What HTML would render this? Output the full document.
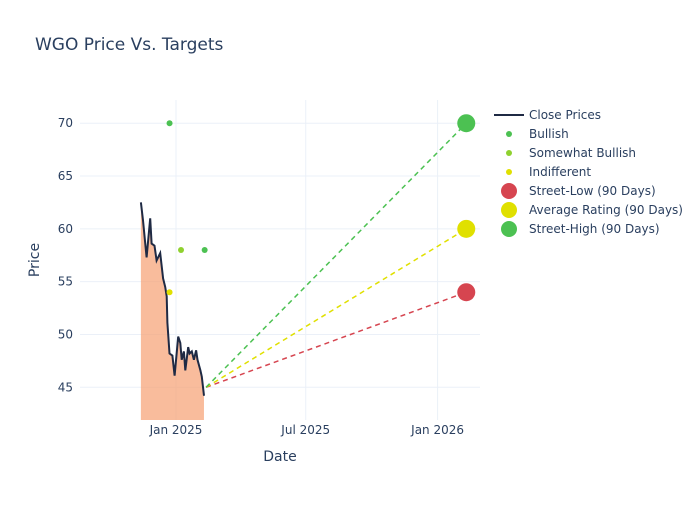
<!DOCTYPE html>
<html><head><meta charset="utf-8"><style>
body{margin:0;background:#fff;font-family:"Liberation Sans","DejaVu Sans",sans-serif;}
svg text{font-family:"DejaVu Sans","Liberation Sans",sans-serif;fill:#2a3f5f;}
</style></head><body>
<svg id="c" width="700" height="500" xmlns="http://www.w3.org/2000/svg">
<rect width="700" height="500" fill="#fff"/>
<text x="35" y="50" font-size="17">WGO Price Vs. Targets</text>
</svg>
<script>
const priceDates=["2024-11-13","2024-11-16","2024-11-21","2024-11-26","2024-11-28","2024-12-02","2024-12-05","2024-12-10","2024-12-14","2024-12-17","2024-12-19","2024-12-20","2024-12-23","2024-12-27","2024-12-30","2025-01-04","2025-01-07","2025-01-09","2025-01-12","2025-01-14","2025-01-18","2025-01-20","2025-01-23","2025-01-26","2025-01-29","2025-01-31","2025-02-04","2025-02-06","2025-02-09"];
const priceValues=[62.5,60.8,57.3,61.0,58.6,58.4,57.0,57.7,55.3,54.5,53.6,51.1,48.2,48.0,46.1,49.8,49.2,47.6,48.4,46.6,48.8,48.2,48.4,47.6,48.5,47.6,46.6,46.0,44.2];
const bullishDates=["2024-12-23","2025-02-10"], bullishValues=[70,58];
const swBullishDates=["2025-01-08"], swBullishValues=[58];
const indiffDates=["2024-12-23"], indiffValues=[54];
const targetDate="2026-02-10", targetStart="2025-02-12", startValue=45;
const targetNames=["Street-Low (90 Days)","Average Rating (90 Days)","Street-High (90 Days)"];
const targetValues=[54,60,70];
const targetColors=["#d64550","#e0e000","#4cc152"];
const yTicks=[45,50,55,60,65,70];
const xTickDates=["2025-01-01","2025-07-01","2026-01-01"], xTickLabels=["Jan 2025","Jul 2025","Jan 2026"];

const svg=document.getElementById('c'), NS="http://www.w3.org/2000/svg";
const L=80,R=480,T=100,B=420, y0=41.9,y1=72.2;
const base=Date.UTC(2025,0,1);
function days(d){const p=d.split('-');return (Date.UTC(+p[0],p[1]-1,+p[2])-base)/864e5;}
function X(d){return 176+days(d)*0.7167;}
function Y(v){return B-(v-y0)/(y1-y0)*(B-T);}
function mk(tag,a,parent){const e=document.createElementNS(NS,tag);for(const k in a)e.setAttribute(k,a[k]);(parent||svg).appendChild(e);return e;}

const grid=mk('g',{});


yTicks.forEach(v=>{
  mk('line',{x1:L,x2:R,y1:Y(v),y2:Y(v),stroke:'#ebf0f8'},grid);
  const t=mk('text',{x:L-7,y:Y(v)+4,'font-size':12,'text-anchor':'end'});
  t.textContent=v;
  
  
});
xTickDates.forEach((d,i)=>{
  mk('line',{x1:X(d),x2:X(d),y1:T,y2:B,stroke:'#ebf0f8'},grid);
  const t=mk('text',{x:X(d),y:B+14,'font-size':12,'text-anchor':'middle'});
  t.textContent=xTickLabels[i];
  
  
});
let t=mk('text',{x:280,y:461,'font-size':14,'text-anchor':'middle'});t.textContent='Date';


t=mk('text',{x:39,y:260,'font-size':14,'text-anchor':'middle',transform:'rotate(-90 39 260)'});t.textContent='Price';



// area + line
let pts=priceDates.map((d,i)=>X(d).toFixed(1)+','+Y(priceValues[i]).toFixed(1));
const last=X(priceDates[priceDates.length-1]);
let area=mk('polygon',{points:X(priceDates[0])+','+B+' '+pts.join(' ')+' '+last+','+B,fill:'rgba(247,160,114,0.7)'});


// target lines
targetValues.forEach((v,i)=>{
  const l=mk('line',{x1:X(targetStart),y1:Y(startValue),x2:X(targetDate),y2:Y(v),stroke:targetColors[i],'stroke-width':1.5,'stroke-dasharray':'5,4'});
  
  
});
let line=mk('polyline',{points:pts.join(' '),fill:'none',stroke:'#1f2a44','stroke-width':2});


function dots(ds,vs,col,r,name){ds.forEach((d,i)=>{const c=mk('circle',{cx:X(d),cy:Y(vs[i]),r:r,fill:col});
  
  });}
dots(bullishDates,bullishValues,'#4cc152',3,'bullish-point');
dots(swBullishDates,swBullishValues,'#8fd12f',3,'somewhat-bullish-point');
dots(indiffDates,indiffValues,'#e0e000',3,'indifferent-point');
targetValues.forEach((v,i)=>{const c=mk('circle',{cx:X(targetDate),cy:Y(v),r:9,fill:targetColors[i]});
  
  });

// legend
const lg=mk('g',{});


const items=[["Close Prices","line"],["Bullish","#4cc152",3],["Somewhat Bullish","#8fd12f",3],["Indifferent","#e0e000",3],["Street-Low (90 Days)","#d64550",8],["Average Rating (90 Days)","#e0e000",8],["Street-High (90 Days)","#4cc152",8]];
items.forEach((it,i)=>{
  const y=115+i*19;
  const g=mk('g',{},lg);
  
  
  if(it[1]==='line')mk('line',{x1:494,x2:524,y1:y,y2:y,stroke:'#1f2a44','stroke-width':2},g);
  else mk('circle',{cx:509,cy:y,r:it[2],fill:it[1]},g);
  const tt=mk('text',{x:529,y:y+4,'font-size':12},g);tt.textContent=it[0];
});
</script>
</body></html>
